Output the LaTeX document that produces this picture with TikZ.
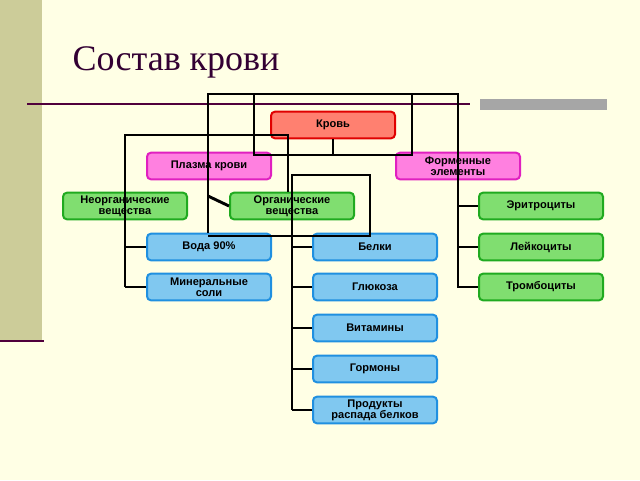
\documentclass[tikz,border=0pt]{standalone}
\usepackage{fontspec}
\setmainfont{Liberation Sans}
\newfontfamily\titlefont{Liberation Serif}
\definecolor{bg}{RGB}{255,255,229}
\definecolor{strip}{RGB}{204,204,153}
\definecolor{plum}{RGB}{80,0,60}
\definecolor{titlec}{RGB}{51,0,51}
\definecolor{pinkf}{RGB}{255,128,224}\definecolor{pinkd}{RGB}{224,32,192}
\definecolor{grnf}{RGB}{128,222,112}\definecolor{grnd}{RGB}{32,170,32}
\definecolor{bluf}{RGB}{128,200,240}\definecolor{blud}{RGB}{32,144,224}
\definecolor{redf}{RGB}{255,128,112}\definecolor{redd}{RGB}{224,0,0}
\begin{document}
\begin{tikzpicture}[x=0.75pt,y=-0.75pt,
 box/.style={draw,line width=1.5pt,rounded corners=3pt,minimum width=93pt,minimum height=20pt,inner sep=0pt,align=center,font=\bfseries\fontsize{8.3}{8.5}\selectfont},
 red/.style={box,fill=redf,draw=redd},
 pink/.style={box,fill=pinkf,draw=pinkd},
 grn/.style={box,fill=grnf,draw=grnd},
 blu/.style={box,fill=bluf,draw=blud},
 ln/.style={line width=2.2pt,black}]
\useasboundingbox (0,0) rectangle (640,480);
\fill[bg] (0,0) rectangle (640,480);
\fill[strip] (0,0) rectangle (42,340);
\draw[line width=1.5pt,plum] (0,341) -- (44,341);
\draw[line width=1pt,plum] (27,104) -- (470,104);
\fill[gray!70] (480,99) rectangle (607,110);
\node[anchor=west,font=\titlefont\fontsize{27}{30}\selectfont,text=titlec] (title) at (68,62) {Состав крови};
\node[red] (krov) at (333,125) {Кровь};
\node[pink] (plazma) at (209,166) {Плазма крови};
\node[pink] (form) at (458,166) {Форменные\\элементы};
\node[grn] (neorg) at (125,206) {Неорганические\\вещества};
\node[grn] (org) at (292,206) {Органические\\вещества};
\node[grn] (eritr) at (541,206) {Эритроциты};
\node[blu] (voda) at (209,247) {Вода 90\%};
\node[blu] (belki) at (375,247) {Белки};
\node[grn] (leik) at (541,247) {Лейкоциты};
\node[blu] (miner) at (209,287) {Минеральные\\соли};
\node[blu] (gluk) at (375,287) {Глюкоза};
\node[grn] (tromb) at (541,287) {Тромбоциты};
\node[blu] (vit) at (375,328) {Витамины};
\node[blu] (gorm) at (375,369) {Гормоны};
\node[blu] (prod) at (375,410) {Продукты\\распада белков};
\coordinate (a1) at (208,94); \coordinate (a2) at (458,94);
\coordinate (b1) at (254,94); \coordinate (b2) at (412,94);
\draw[ln] (voda.north -| a1) -- (a1) -- (a2) -- (tromb.west -| a2) -- (tromb.west);
\draw[ln] (eritr.west -| a2) -- (eritr.west);
\draw[ln] (leik.west -| a2) -- (leik.west);
\draw[ln] (b1) -- (254,155) -- (412,155) -- (b2);
\draw[ln] (krov.south) -- (krov.south |- 0,155);
\draw[ln] (miner.west -| 125,0) -- (125,135) -- (288,135) -- (org.north -| 288,0);
\draw[ln] (voda.west) -- (voda.west -| 125,0);
\draw[ln] (miner.west) -- (miner.west -| 125,0);
\draw[ln] (208,196) -- (org.west);
\draw[ln] (292,410) -- (292,175) -- (370,175) -- (370,236) -- (208,236);
\foreach \n in {belki,gluk,vit,gorm,prod} \draw[ln] (\n.west) -- (\n.west -| 292,0);
\end{tikzpicture}
\end{document}
